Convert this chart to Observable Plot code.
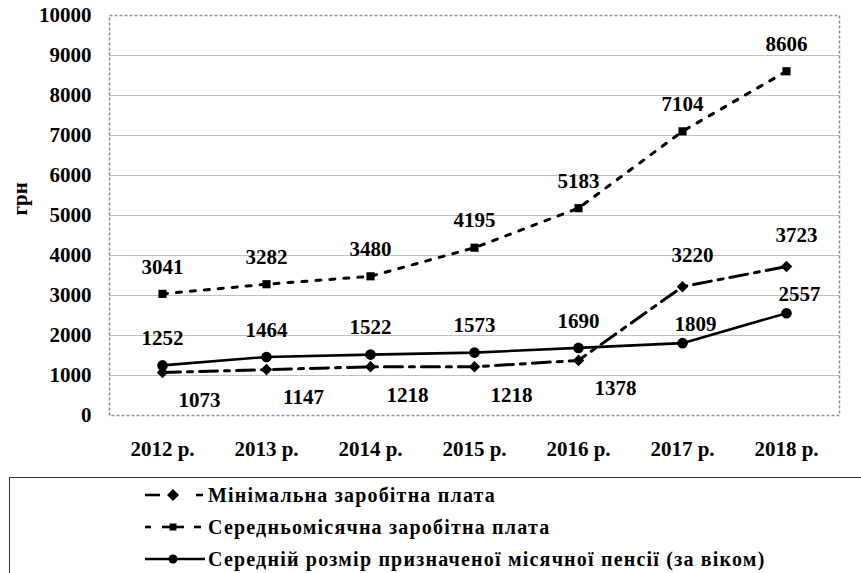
<!DOCTYPE html>
<html>
<head>
<meta charset="utf-8">
<script src="https://cdn.jsdelivr.net/npm/d3@7"></script>
<script src="https://cdn.jsdelivr.net/npm/@observablehq/plot@0.6"></script>
<style>
  html, body { margin: 0; padding: 0; background: #fff; }
  body { width: 861px; height: 573px; overflow: hidden; font-family: "Liberation Serif", "Times New Roman", serif; }
  #chart { position: relative; }
  #legend {
    position: absolute; left: 9px; top: 477px; width: 900px; height: 120px;
    border: 1.5px solid #333; box-sizing: border-box;
  }
  .item { position: absolute; left: 134px; height: 22px; display: flex; align-items: center; }
  .item svg { width: 64px; height: 20px; flex: none; }
  .item span { font-family: "Liberation Serif", "Times New Roman", serif; font-weight: bold; font-size: 20px; letter-spacing: 1.2px; color: #000; white-space: nowrap; }
</style>
</head>
<body>
<div id="chart"></div>
<script>
// ---- data ----
const years = ["2012 р.", "2013 р.", "2014 р.", "2015 р.", "2016 р.", "2017 р.", "2018 р."];
const minWage = [1073, 1147, 1218, 1218, 1378, 3220, 3723];
const avgWage = [3041, 3282, 3480, 4195, 5183, 7104, 8606];
const pension = [1252, 1464, 1522, 1573, 1690, 1809, 2557];
const yTicks = [0, 1000, 2000, 3000, 4000, 5000, 6000, 7000, 8000, 9000, 10000];
const seriesNames = [
  "Мінімальна заробітна плата",
  "Середньомісячна заробітна плата",
  "Середній розмір призначеної місячної пенсії (за віком)"
];
const yTitle = "грн";

const rows = arr => years.map((year, i) => ({year, value: arr[i], i}));
const minRows = rows(minWage), avgRows = rows(avgWage), penRows = rows(pension);

const font = '"Liberation Serif", "Times New Roman", serif';
const labelStyle = {fontSize: 21, fontWeight: "bold", fill: "#000", fontFamily: font};
const lbl = d => String(d.value);

const plot = Plot.plot({
  width: 861,
  height: 470,
  marginLeft: 109,
  marginRight: 22,
  marginTop: 15,
  marginBottom: 55,
  style: {fontFamily: font, background: "#fff", overflow: "visible"},
  x: {type: "point", domain: years, padding: 0.5},
  y: {domain: [0, 10000]},
  marks: [
    Plot.gridY(yTicks.filter(t => t > 0 && t < 10000), {stroke: "#c0c0c0", strokeOpacity: 1, strokeWidth: 1}),
    Plot.frame({stroke: "#8c8c8c", strokeWidth: 1.5, strokeDasharray: "3,2"}),
    Plot.axisY({ticks: yTicks, tickFormat: d => String(d), tickSize: 0, tickPadding: 18, label: null,
      fontSize: 21, fontWeight: "bold", fill: "#000", fontFamily: font}),
    Plot.axisX({tickSize: 0, tickPadding: 26, label: null, fontSize: 21, fontWeight: "bold", fill: "#000", fontFamily: font}),
    Plot.text([yTitle], {frameAnchor: "left", text: d => d, rotate: -90, dx: -89, ...labelStyle}),
    // lines
    Plot.line(minRows, {x: "year", y: "value", stroke: "#000", strokeWidth: 3, strokeDasharray: "18,7,5,7"}),
    Plot.line(avgRows, {x: "year", y: "value", stroke: "#000", strokeWidth: 3, strokeDasharray: "5,9"}),
    Plot.line(penRows, {x: "year", y: "value", stroke: "#000", strokeWidth: 2.6}),
    // markers
    Plot.dot(minRows, {x: "year", y: "value", symbol: "diamond2", r: 5.2, fill: "#000", stroke: "none"}),
    Plot.dot(avgRows, {x: "year", y: "value", symbol: "square", r: 4.6, fill: "#000", stroke: "none"}),
    Plot.dot(penRows, {x: "year", y: "value", symbol: "circle", r: 5.3, fill: "#000", stroke: "none"}),
    // value labels
    Plot.text(avgRows, {x: "year", y: "value", text: lbl, dy: -27, ...labelStyle}),
    Plot.text(minRows.filter(d => d.i < 5), {x: "year", y: "value", text: lbl, dx: 37, dy: 28, ...labelStyle}),
    Plot.text(minRows.filter(d => d.i >= 5), {x: "year", y: "value", text: lbl, dx: 10, dy: -31, ...labelStyle}),
    Plot.text(penRows.filter(d => d.i < 5), {x: "year", y: "value", text: lbl, dy: -27, ...labelStyle}),
    Plot.text(penRows.filter(d => d.i >= 5), {x: "year", y: "value", text: lbl, dx: 13, dy: -19, ...labelStyle})
  ]
});

const chart = document.getElementById("chart");
chart.appendChild(plot);

// ---- legend ----
const legend = document.createElement("div");
legend.id = "legend";
const symbols = [
  `<line x1="1" y1="10" x2="16" y2="10" stroke="#000" stroke-width="2.6"/>
   <path d="M29 4 L35 10 L29 16 L23 10 Z" fill="#000"/>
   <line x1="52" y1="10" x2="59" y2="10" stroke="#000" stroke-width="2.6"/>`,
  `<line x1="1" y1="10" x2="7" y2="10" stroke="#000" stroke-width="2.6"/>
   <line x1="18" y1="10" x2="40" y2="10" stroke="#000" stroke-width="2.6"/>
   <rect x="25.5" y="6.5" width="7" height="7" fill="#000"/>
   <line x1="50" y1="10" x2="57" y2="10" stroke="#000" stroke-width="2.6"/>`,
  `<line x1="1" y1="10" x2="61" y2="10" stroke="#000" stroke-width="2.6"/>
   <circle cx="29" cy="10" r="4.5" fill="#000"/>`
];
const tops = [6, 38, 70];
seriesNames.forEach((name, k) => {
  const item = document.createElement("div");
  item.className = "item";
  item.style.top = tops[k] + "px";
  item.innerHTML = `<svg viewBox="0 0 64 20">${symbols[k]}</svg>`;
  const span = document.createElement("span");
  span.textContent = name;
  item.appendChild(span);
  legend.appendChild(item);
});
chart.appendChild(legend);
</script>
</body>
</html>
